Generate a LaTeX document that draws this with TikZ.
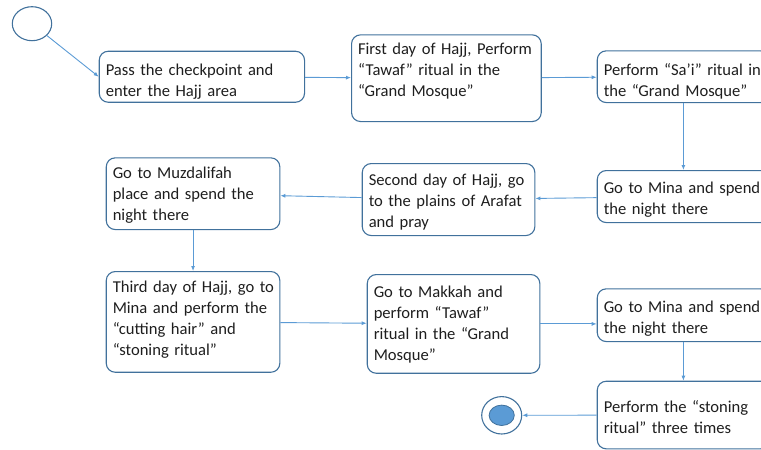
\documentclass[tikz,border=0pt]{standalone}
\usepackage{fontspec}
\setmainfont{Carlito}
\usetikzlibrary{arrows.meta,shapes.geometric}

\definecolor{boxline}{HTML}{41719C}
\definecolor{flowline}{HTML}{5B9BD5}
\definecolor{inktext}{HTML}{1E1E1E}
\newcommand\stepfont{\fontsize{16.6}{21}\selectfont
  \spaceskip=0.17em plus 0.1em\relax\hyphenpenalty=10000\relax}

\tikzset{
  stepbox/.style={draw=boxline, line width=1.1pt, rounded corners=9pt,
    inner xsep=6.5pt, inner ysep=0pt, anchor=north west, align=left,
    text=inktext, font=\stepfont,
    execute at begin node={\rightskip=0pt plus 1fil minus 14pt\relax}},
  boxdim/.style n args={3}{text width=#1-13pt, text height=#2, text depth=#3},
  terminal/.style={ellipse, draw=boxline, line width=1.1pt, inner sep=0pt}
}

\begin{document}
\begin{tikzpicture}[x=1pt, y=-1pt]
  \path[use as bounding box, clip] (0,0) rectangle (761,450);
  \begin{scope}[every node/.style={stepbox}]
    \node (pass)   [boxdim={205.3pt}{24.3pt}{26.7pt}] at (98.7,50.7)  {Pass the checkpoint and\\enter the Hajj area};
    \node (tawaf)  [boxdim={189.7pt}{19.7pt}{67pt}]   at (351,34.3)   {First day of Hajj, Perform\\“Tawaf” ritual in the\\“Grand Mosque”};
    \node (sai)    [boxdim={172.3pt}{24.7pt}{27pt}]   at (596.7,50.3) {Perform “Sa’i” ritual in\\the “Grand Mosque”};
    \node (mina)   [boxdim={172.3pt}{22.7pt}{29.3pt}] at (596.7,170)  {Go to Mina and spend\\the night there};
    \node (arafat) [boxdim={172.6pt}{22pt}{50pt}]     at (361.7,163)  {Second day of Hajj, go\\to the plains of Arafat\\and pray};
    \node (muzda)  [boxdim={173.6pt}{21pt}{50.7pt}]   at (105.7,157.3){Go to Muzdalifah\\place and spend the\\night there};
    \node (third)  [boxdim={173.6pt}{20.7pt}{80pt}]   at (105.7,271)  {Third day of Hajj, go to\\Mina and perform the\\“cutting hair” and\\“stoning ritual”};
    \node (makkah) [boxdim={172.6pt}{22.7pt}{76pt}]   at (366.7,274)  {Go to Makkah and\\perform “Tawaf”\\ritual in the “Grand\\Mosque”};
    \node (minatwo)[boxdim={172.3pt}{23.4pt}{29.3pt}] at (596.7,288.3){Go to Mina and spend\\the night there};
    \node (stoning)[boxdim={172.3pt}{31pt}{36.6pt}]   at (596.7,380.7){Perform the “stoning\\ritual” three times};
  \end{scope}
  \node (start) [terminal, minimum width=39.4pt, minimum height=34pt] at (32,23.7) {};
  \node (stop)  [terminal, minimum width=40pt, minimum height=37.4pt] at (501.7,415.3) {};
  \fill[fill=flowline, draw=boxline, line width=0.8pt] (stop.center) ellipse (12.6pt and 10.2pt);
  \begin{scope}[every edge/.style={draw=flowline, line width=0.9pt},
    >={Latex[length=5pt,width=4pt]}]
    \path[->] (start) edge (pass.west);
    \path[->] (pass) edge (tawaf);
    \path[->] (tawaf) edge (sai);
    \path[->] (sai) edge (mina);
    \path[->] (mina) edge (arafat);
    \path[->] (arafat) edge (muzda);
    \path[->] (muzda) edge (third);
    \path[->] (third) edge (makkah);
    \path[->] (makkah) edge (makkah -| minatwo.west);
    \path[->] (minatwo) edge (stoning);
    \path[->] (stoning) edge (stop);
  \end{scope}
\end{tikzpicture}
\end{document}
